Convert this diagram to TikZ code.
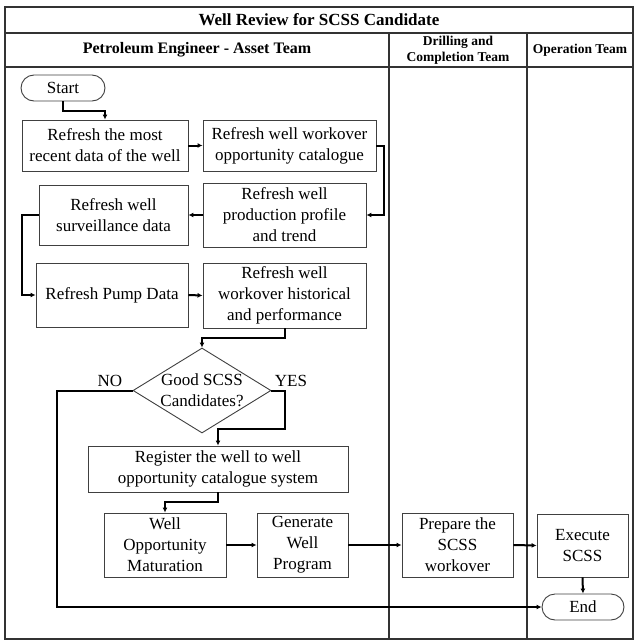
\documentclass[tikz,border=0pt]{standalone}
\usepackage{fontspec}
\setmainfont{Liberation Serif}
\usetikzlibrary{arrows.meta,shapes.geometric}
\begin{document}
\begin{tikzpicture}[x=1pt,y=-1pt,
  lane/.style={draw=black!80, line width=1.1pt},
  box/.style={draw=black!75, line width=0.9pt, fill=white, inner sep=0pt,
    align=center, font=\fontsize{17}{21}\selectfont},
  term/.style={box, rounded corners=13pt},
  decision/.style={box, shape=diamond},
  conn/.style={draw=black, line width=2pt, -{Latex[length=5pt,width=5pt]}},
  label/.style={font=\fontsize{17}{21}\selectfont, inner sep=0pt},
  title/.style={font=\bfseries\fontsize{17}{20}\selectfont, inner sep=0pt},
  lanehead/.style={font=\bfseries\fontsize{13.5}{16}\selectfont, align=center, inner sep=0pt}]
\useasboundingbox (0,0) rectangle (634,640);

% swimlane frame
\draw[lane] (5,7) rectangle (633,639);
\draw[lane] (5,33) -- (633,33);
\draw[lane] (5,67) -- (633,67);
\draw[lane] (389,33) -- (389,639);
\draw[lane] (527,33) -- (527,639);

\node[title] (ttl) at (319,20) {Well Review for SCSS Candidate};
\node[title, font=\bfseries\fontsize{16}{18}\selectfont] (hpe) at (197,50) {Petroleum Engineer - Asset Team};
\node[lanehead] (hdc) at (458,50) {Drilling and\\Completion Team};
\node[lanehead] (hop) at (580,50) {Operation Team};

% process steps
\node[term, minimum width=84pt, minimum height=26pt] (start) at (63,88) {Start};
\node[box, minimum width=166pt, minimum height=51pt] (b1) at (105,145.5) {Refresh the most\\recent data of the well};
\node[box, minimum width=173pt, minimum height=51pt] (b2) at (289.5,145.5) {Refresh well workover\\opportunity catalogue};
\node[box, minimum width=163pt, minimum height=64pt] (b3) at (284.5,215) {Refresh well\\production profile\\and trend};
\node[box, minimum width=149pt, minimum height=60pt] (b4) at (113.5,215) {Refresh well\\surveillance data};
\node[box, minimum width=152pt, minimum height=64pt] (b5) at (112,295) {Refresh Pump Data};
\node[box, minimum width=163pt, minimum height=65pt] (b6) at (284.5,295.5) {Refresh well\\workover historical\\and performance};
\node[decision, minimum width=138pt, minimum height=85pt] (dec) at (202,390.5) {};
\node[label, align=center] (dectext) at (dec) {Good SCSS\\Candidates?};
\node[label] (nolbl) at (110,381) {NO};
\node[label] (yeslbl) at (291,381) {YES};
\node[box, minimum width=260pt, minimum height=46pt] (b7) at (218,469) {Register the well to well\\opportunity catalogue system};
\node[box, minimum width=122pt, minimum height=64pt] (b8) at (165,545) {Well\\Opportunity\\Maturation};
\node[box, minimum width=91pt, minimum height=64pt] (b9) at (302.5,545) {Generate\\Well\\Program};
\node[box, minimum width=111pt, minimum height=64pt] (b10) at (457.5,545) {Prepare the\\SCSS\\workover};
\node[box, minimum width=91pt, minimum height=63pt] (b11) at (582.5,545.5) {Execute\\SCSS};
\node[term, minimum width=82pt, minimum height=26pt] (end) at (583,607) {End};
\coordinate (noturn) at (57,607);

% connectors
\draw[conn] (start.south) -- ++(0,10) -| (b1.north);
\draw[conn] (b1.east) -- (b2.west);
\draw[conn] (b2.east) -- ++(8,0) |- (b3.east);
\draw[conn] (b3.west) -- (b4.east);
\draw[conn] (b4.west) -- ++(-17,0) |- (b5.west);
\draw[conn] (b5.east) -- (b6.west);
\draw[conn] (b6.south) -- ++(0,10) -| (dec.north);
\draw[conn] (dec.west) -| (noturn) -- (end.west);
\draw[conn] (dec.east) -- ++(14,0) -- ++(0,38) -| (b7.north);
\draw[conn] (b7.south) -- ++(0,10) -| (b8.north);
\draw[conn] (b8.east) -- (b9.west);
\draw[conn] (b9.east) -- (b10.west);
\draw[conn] (b10.east) -- (b11.west);
\draw[conn] (b11.south) -- (end.north);
\end{tikzpicture}
\end{document}
